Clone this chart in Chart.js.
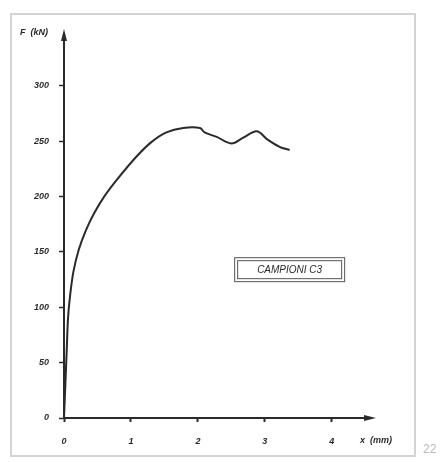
<!DOCTYPE html>
<html>
<head>
<meta charset="utf-8">
<script src="https://cdn.jsdelivr.net/npm/chart.js@4.4.0/dist/chart.umd.min.js"></script>
<style>
  html, body { margin: 0; padding: 0; background: #fff; }
  #wrap { position: relative; width: 442px; height: 462px; }
  #frame { position: absolute; left: 10px; top: 13px; width: 406px; height: 444px; border: 2px solid #d4d4d4; box-sizing: border-box; }
  #pageNo { position: absolute; left: 423px; top: 442px; font: 12px "Liberation Sans", sans-serif; color: #bbb; }
  canvas { position: absolute; left: 0; top: 0; }
</style>
</head>
<body>
<div id="wrap">
  <div id="frame"></div>
  <span id="pageNo">22</span>
  <canvas id="chart" width="442" height="462"></canvas>
</div>
<script>
// displacement x (mm) and force F (kN)
const displacement = [0, 0.02, 0.04, 0.06, 0.09, 0.14, 0.22, 0.33, 0.45, 0.6, 0.8, 1.08, 1.3, 1.53, 1.78, 2.03, 2.1, 2.28, 2.5, 2.67, 2.88, 3.03, 3.22, 3.37];
const force = [0, 30, 60, 90, 110, 132, 152, 170, 185, 200, 216, 236, 249, 258, 262, 262, 258, 254, 248, 253, 259, 252, 245, 242];
const xTicks = [0, 1, 2, 3, 4];
const yTicks = [0, 50, 100, 150, 200, 250, 300];
const sampleLabel = "CAMPIONI C3";

const ink = "#2a2a2a";
const labelFont = { family: "Liberation Sans", size: 9, style: "italic", weight: "bold" };

const decor = {
  id: "decor",
  afterDraw(chart) {
    const { ctx, chartArea: a } = chart;
    ctx.save();
    ctx.fillStyle = ink;
    // arrow heads
    ctx.beginPath();
    ctx.moveTo(a.left, a.top - 6);
    ctx.lineTo(a.left - 3, a.top + 6);
    ctx.lineTo(a.left + 3, a.top + 6);
    ctx.closePath();
    ctx.fill();
    ctx.beginPath();
    ctx.moveTo(a.right + 6, a.bottom);
    ctx.lineTo(a.right - 6, a.bottom - 3);
    ctx.lineTo(a.right - 6, a.bottom + 3);
    ctx.closePath();
    ctx.fill();
    // axis titles
    ctx.font = "italic bold 9px 'Liberation Sans'";
    ctx.textBaseline = "middle";
    ctx.textAlign = "left";
    ctx.fillText("F  (kN)", 20, 33);
    ctx.fillText("x  (mm)", 360, 441);
    // sample box
    const x = chart.scales.x.getPixelForValue(3.37);
    const y = chart.scales.y.getPixelForValue(134);
    ctx.strokeStyle = "#555";
    ctx.lineWidth = 1;
    ctx.strokeRect(x - 55, y - 12, 110, 24);
    ctx.strokeRect(x - 52, y - 9, 104, 18);
    ctx.font = "italic 10px 'Liberation Sans'";
    ctx.textAlign = "center";
    ctx.fillText(sampleLabel, x, y + 1);
    ctx.restore();
  }
};

new Chart(document.getElementById("chart"), {
  type: "line",
  data: {
    datasets: [{
      data: displacement.map((v, i) => ({ x: v, y: force[i] })),
      borderColor: ink,
      borderWidth: 2,
      pointRadius: 0,
      tension: 0.35,
      fill: false
    }]
  },
  options: {
    responsive: false,
    animation: false,
    layout: { padding: { top: 35, right: 72, left: 0, bottom: 0 } },
    plugins: { legend: { display: false }, tooltip: { enabled: false } },
    scales: {
      x: {
        type: "linear",
        min: 0,
        max: 4.57,
        afterBuildTicks: axis => { axis.ticks = xTicks.map(v => ({ value: v })); },
        afterFit: axis => { axis.height = 44; },
        border: { color: ink, width: 2 },
        grid: { drawOnChartArea: false, tickLength: 4, color: ink, tickWidth: 2 },
        ticks: { color: ink, font: labelFont, padding: 14, maxRotation: 0 }
      },
      y: {
        min: 0,
        max: 346,
        afterBuildTicks: axis => { axis.ticks = yTicks.map(v => ({ value: v })); },
        afterFit: axis => { axis.width = 64; },
        border: { color: ink, width: 2 },
        grid: { drawOnChartArea: false, tickLength: 5, color: ink, tickWidth: 1.5 },
        ticks: { color: ink, font: labelFont, padding: 10 }
      }
    }
  },
  plugins: [decor]
});
</script>
</body>
</html>
